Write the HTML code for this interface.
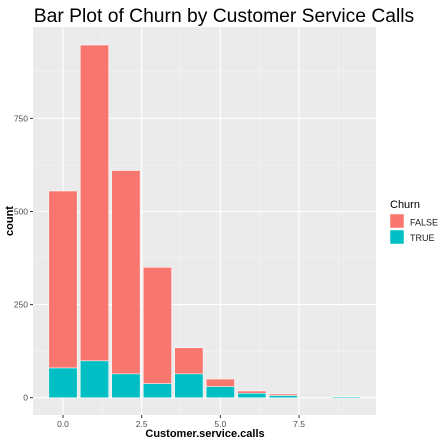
<!DOCTYPE html>
<html><head><meta charset="utf-8"><style>
body{margin:0;background:#fff;}
svg{display:block;font-family:"Liberation Sans",Arial,sans-serif;}
</style></head><body>
<svg id="chart" width="445" height="445" viewBox="0 0 445 445">
<rect x="0" y="0" width="445" height="445" fill="#fff"/>
<text x="224" y="22" text-anchor="middle" font-size="19.3" fill="#000">Bar Plot of Churn by Customer Service Calls</text>
<rect x="33" y="27" width="343" height="388" fill="#ebebeb"/>
<g id="grid"></g>
<g id="bars"></g>
<g id="axes"></g>
<text x="205" y="437" text-anchor="middle" font-size="11" font-weight="bold" fill="#000">Customer.service.calls</text>
<text transform="translate(13,221) rotate(-90)" text-anchor="middle" font-size="11" font-weight="bold" fill="#000">count</text>
<g>
<text x="390" y="208" font-size="11" fill="#000">Churn</text>
<rect x="390" y="214" width="14" height="14" fill="#F8766D" stroke="#fff" stroke-width="0.5"/>
<text x="410" y="225.5" font-size="9" fill="#1a1a1a">FALSE</text>
<rect x="390" y="230" width="14" height="14" fill="#00BFC4" stroke="#fff" stroke-width="0.5"/>
<text x="410" y="241" font-size="9" fill="#1a1a1a">TRUE</text>
</g>
</svg>
<script>
const categories = [0,1,2,3,4,5,6,7,8,9];
const falseCounts = [475,848,546,312,70,20,6,4,0,1];
const trueCounts = [80,99,64,38,64,30,12,6,1,3];
const yTicks = [0,250,500,750];
const yTickLabels = ["0","250","500","750"];
const xTicks = [0,2.5,5,7.5];
const xTickLabels = ["0.0","2.5","5.0","7.5"];

const NS="http://www.w3.org/2000/svg";
const X0=63, XS=31.47, Y0=397.7, YS=0.3724;
const panelL=33, panelR=376, panelT=27, panelB=415;
function xs(v){return X0+v*XS;}
function ys(v){return Y0-v*YS;}
function mk(tag,attrs,parent){const e=document.createElementNS(NS,tag);for(const k in attrs)e.setAttribute(k,attrs[k]);parent.appendChild(e);return e;}
const grid=document.getElementById('grid'), bars=document.getElementById('bars'), axes=document.getElementById('axes');
for(let i=0;i<yTicks.length;i++){
  const m=yTicks[i]+125; const y=ys(m);
  if(y>panelT){const l=mk('line',{x1:panelL,x2:panelR,y1:y,y2:y,stroke:'#f5f5f5','stroke-width':0.6},grid);
  
  }
}
for(let i=0;i<xTicks.length;i++){
  const m=xTicks[i]+1.25; const x=xs(m);
  if(x<panelR){const l=mk('line',{x1:x,x2:x,y1:panelT,y2:panelB,stroke:'#f5f5f5','stroke-width':0.6},grid);
  
  }
}
{const x=xs(xTicks[0]-1.25); if(x>panelL){const l=mk('line',{x1:x,x2:x,y1:panelT,y2:panelB,stroke:'#f5f5f5','stroke-width':0.6},grid);

}}
yTicks.forEach((t,i)=>{
  const y=ys(t);
  const l=mk('line',{x1:panelL,x2:panelR,y1:y,y2:y,stroke:'#fff','stroke-width':1.1},grid);
  
  
  const tk=mk('line',{x1:panelL-3,x2:panelL,y1:y,y2:y,stroke:'#333','stroke-width':1},axes);
  
  
  const tx=mk('text',{x:panelL-5,y:y+3,'text-anchor':'end','font-size':8.5,fill:'#4d4d4d'},axes);
  tx.textContent=yTickLabels[i];
  
  
});
xTicks.forEach((t,i)=>{
  const x=xs(t);
  const l=mk('line',{x1:x,x2:x,y1:panelT,y2:panelB,stroke:'#fff','stroke-width':1.1},grid);
  
  
  const tk=mk('line',{x1:x,x2:x,y1:panelB,y2:panelB+3,stroke:'#333','stroke-width':1},axes);
  
  
  const tx=mk('text',{x:x,y:panelB+12,'text-anchor':'middle','font-size':8.5,fill:'#4d4d4d'},axes);
  tx.textContent=xTickLabels[i];
  
  
});
const bw=0.9*XS;
categories.forEach((c,i)=>{
  const x=xs(c)-bw/2;
  const t=trueCounts[i], f=falseCounts[i];
  const rt=mk('rect',{x:x,y:ys(t),width:bw,height:Y0-ys(t),fill:'#00BFC4',stroke:'#fff','stroke-width':0.5},bars);
  
  
  const rf=mk('rect',{x:x,y:ys(t+f),width:bw,height:ys(t)-ys(t+f),fill:'#F8766D',stroke:'#fff','stroke-width':0.5},bars);
  
  
});
</script>
</body></html>
